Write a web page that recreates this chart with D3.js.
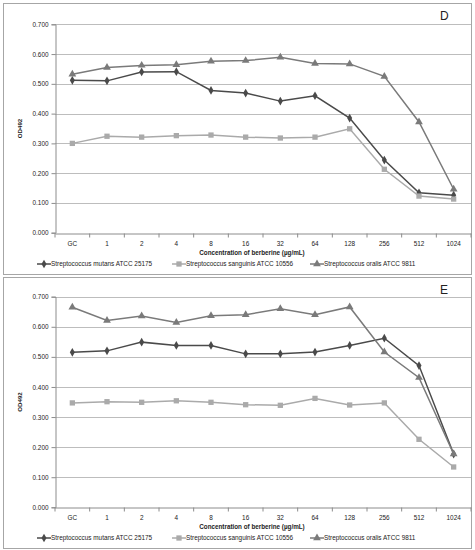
<!DOCTYPE html>
<html>
<head>
<meta charset="utf-8">
<script src="https://cdn.jsdelivr.net/npm/d3@7"></script>
<style>
body { margin: 0; background: #fff; }
text { font-family: "Liberation Sans", Arial, sans-serif; fill: #222; }
</style>
</head>
<body>
<script>
// categories along x
var concentrations = ["GC", "1", "2", "4", "8", "16", "32", "64", "128", "256", "512", "1024"];
var yTicks = [0, 0.1, 0.2, 0.3, 0.4, 0.5, 0.6, 0.7];
var seriesNames = ["Streptococcus mutans ATCC 25175", "Streptococcus sanguinis ATCC 10556", "Streptococcus oralis ATCC 9811"];

// panel D
var mutansD    = [0.512, 0.510, 0.540, 0.541, 0.478, 0.469, 0.442, 0.460, 0.385, 0.244, 0.134, 0.126];
var sanguinisD = [0.300, 0.324, 0.321, 0.326, 0.328, 0.321, 0.318, 0.321, 0.349, 0.213, 0.123, 0.113];
var oralisD    = [0.532, 0.555, 0.562, 0.564, 0.576, 0.578, 0.589, 0.568, 0.567, 0.525, 0.372, 0.146];

// panel E
var mutansE    = [0.515, 0.520, 0.549, 0.538, 0.538, 0.510, 0.510, 0.516, 0.538, 0.562, 0.471, 0.177];
var sanguinisE = [0.347, 0.351, 0.349, 0.354, 0.349, 0.341, 0.339, 0.362, 0.340, 0.347, 0.226, 0.134];
var oralisE    = [0.665, 0.621, 0.636, 0.614, 0.637, 0.640, 0.660, 0.640, 0.666, 0.516, 0.431, 0.177];

var W = 475, H = 550;
var svg = d3.select("body").append("svg").attr("width", W).attr("height", H);

var colors = ["#4a4a4a", "#aaaaaa", "#7a7a7a"];
var shapes = [d3.symbolDiamond, d3.symbolSquare, d3.symbolTriangle];
var symSize = [22, 28, 26];
var fs = "6.4px";

var drawPanel = function(top, bottom, plotTop, plotBottom, label, data){
	var g = svg.append("g");

	g.append("rect")
		.attr("x", 3.5).attr("y", top + 0.5)
		.attr("width", 468).attr("height", bottom - top)
		.attr("fill", "#fff")
		.attr("stroke", "#a6a6a6");

	var x = d3.scaleBand().domain(concentrations).range([55, 471]);
	var y = d3.scaleLinear().domain([0, 0.7]).range([plotBottom, plotTop]);

	// gridlines
	g.selectAll(".grid").data(yTicks.slice(1)).enter().append("line")
		.attr("x1", 55).attr("x2", 471)
		.attr("y1", function(d){ return Math.round(y(d)) + 0.5; })
		.attr("y2", function(d){ return Math.round(y(d)) + 0.5; })
		.attr("stroke", "#bdbdbd").attr("stroke-width", 1);

	// y axis
	var yAxis = g.append("g")
		.attr("transform", "translate(55.5,0)")
		.call(d3.axisLeft(y).tickValues(yTicks).tickFormat(d3.format(".3f")).tickSize(4).tickPadding(3));
	yAxis.select(".domain").attr("stroke", "#8c8c8c");
	yAxis.selectAll(".tick line").attr("stroke", "#8c8c8c");
	yAxis.selectAll("text").style("font-size", fs).attr("fill", "#222");

	// x axis
	var xAxis = g.append("g")
		.attr("transform", "translate(0," + (Math.round(plotBottom) + 0.5) + ")")
		.call(d3.axisBottom(x).tickSize(0).tickPadding(8));
	xAxis.select(".domain").attr("stroke", "#8c8c8c");
	xAxis.selectAll("text").style("font-size", fs).attr("fill", "#222");
	xAxis.selectAll(".btick").data(d3.range(concentrations.length + 1)).enter().append("line")
		.attr("x1", function(i){ return 55 + i * x.step(); })
		.attr("x2", function(i){ return 55 + i * x.step(); })
		.attr("y1", 0).attr("y2", 4)
		.attr("stroke", "#8c8c8c");

	// y title
	g.append("text")
		.attr("transform", "translate(22," + ((plotTop + plotBottom) / 2) + ") rotate(-90)")
		.attr("text-anchor", "middle")
		.style("font-size", "6.2px").style("font-weight", "bold")
		.text("OD492");

	// x title
	g.append("text")
		.attr("x", 252).attr("y", plotBottom + 22)
		.attr("text-anchor", "middle")
		.style("font-size", "6.3px").style("font-weight", "bold")
		.text("Concentration of berberine (\u00b5g/mL)");

	// panel letter
	g.append("text")
		.attr("x", 440).attr("y", top + 17)
		.style("font-size", "12px")
		.text(label);

	var line = d3.line()
		.x(function(d, i){ return x(concentrations[i]) + x.bandwidth() / 2; })
		.y(function(d){ return y(d); });

	data.forEach(function(vals, s){
		g.append("path")
			.attr("d", line(vals))
			.attr("fill", "none")
			.attr("stroke", colors[s])
			.attr("stroke-width", 1.5);
		g.selectAll(".m" + s).data(vals).enter().append("path")
			.attr("d", d3.symbol().type(shapes[s]).size(symSize[s]))
			.attr("transform", function(d, i){
				return "translate(" + (x(concentrations[i]) + x.bandwidth() / 2) + "," + y(d) + ")";
			})
			.attr("fill", colors[s]);
	});

	// legend
	var legX = [37, 172, 310];
	var legY = bottom - 10;
	seriesNames.forEach(function(name, s){
		g.append("line")
			.attr("x1", legX[s]).attr("x2", legX[s] + 14)
			.attr("y1", legY).attr("y2", legY)
			.attr("stroke", colors[s]).attr("stroke-width", 1.5);
		g.append("path")
			.attr("d", d3.symbol().type(shapes[s]).size(symSize[s]))
			.attr("transform", "translate(" + (legX[s] + 7) + "," + legY + ")")
			.attr("fill", colors[s]);
		g.append("text")
			.attr("x", legX[s] + 14).attr("y", legY + 2.3)
			.style("font-size", fs)
			.text(name);
	});
};

drawPanel(3, 274, 24.3, 232.7, "D", [mutansD, sanguinisD, oralisD]);
drawPanel(277, 548, 296.7, 507.3, "E", [mutansE, sanguinisE, oralisE]);
</script>
</body>
</html>
